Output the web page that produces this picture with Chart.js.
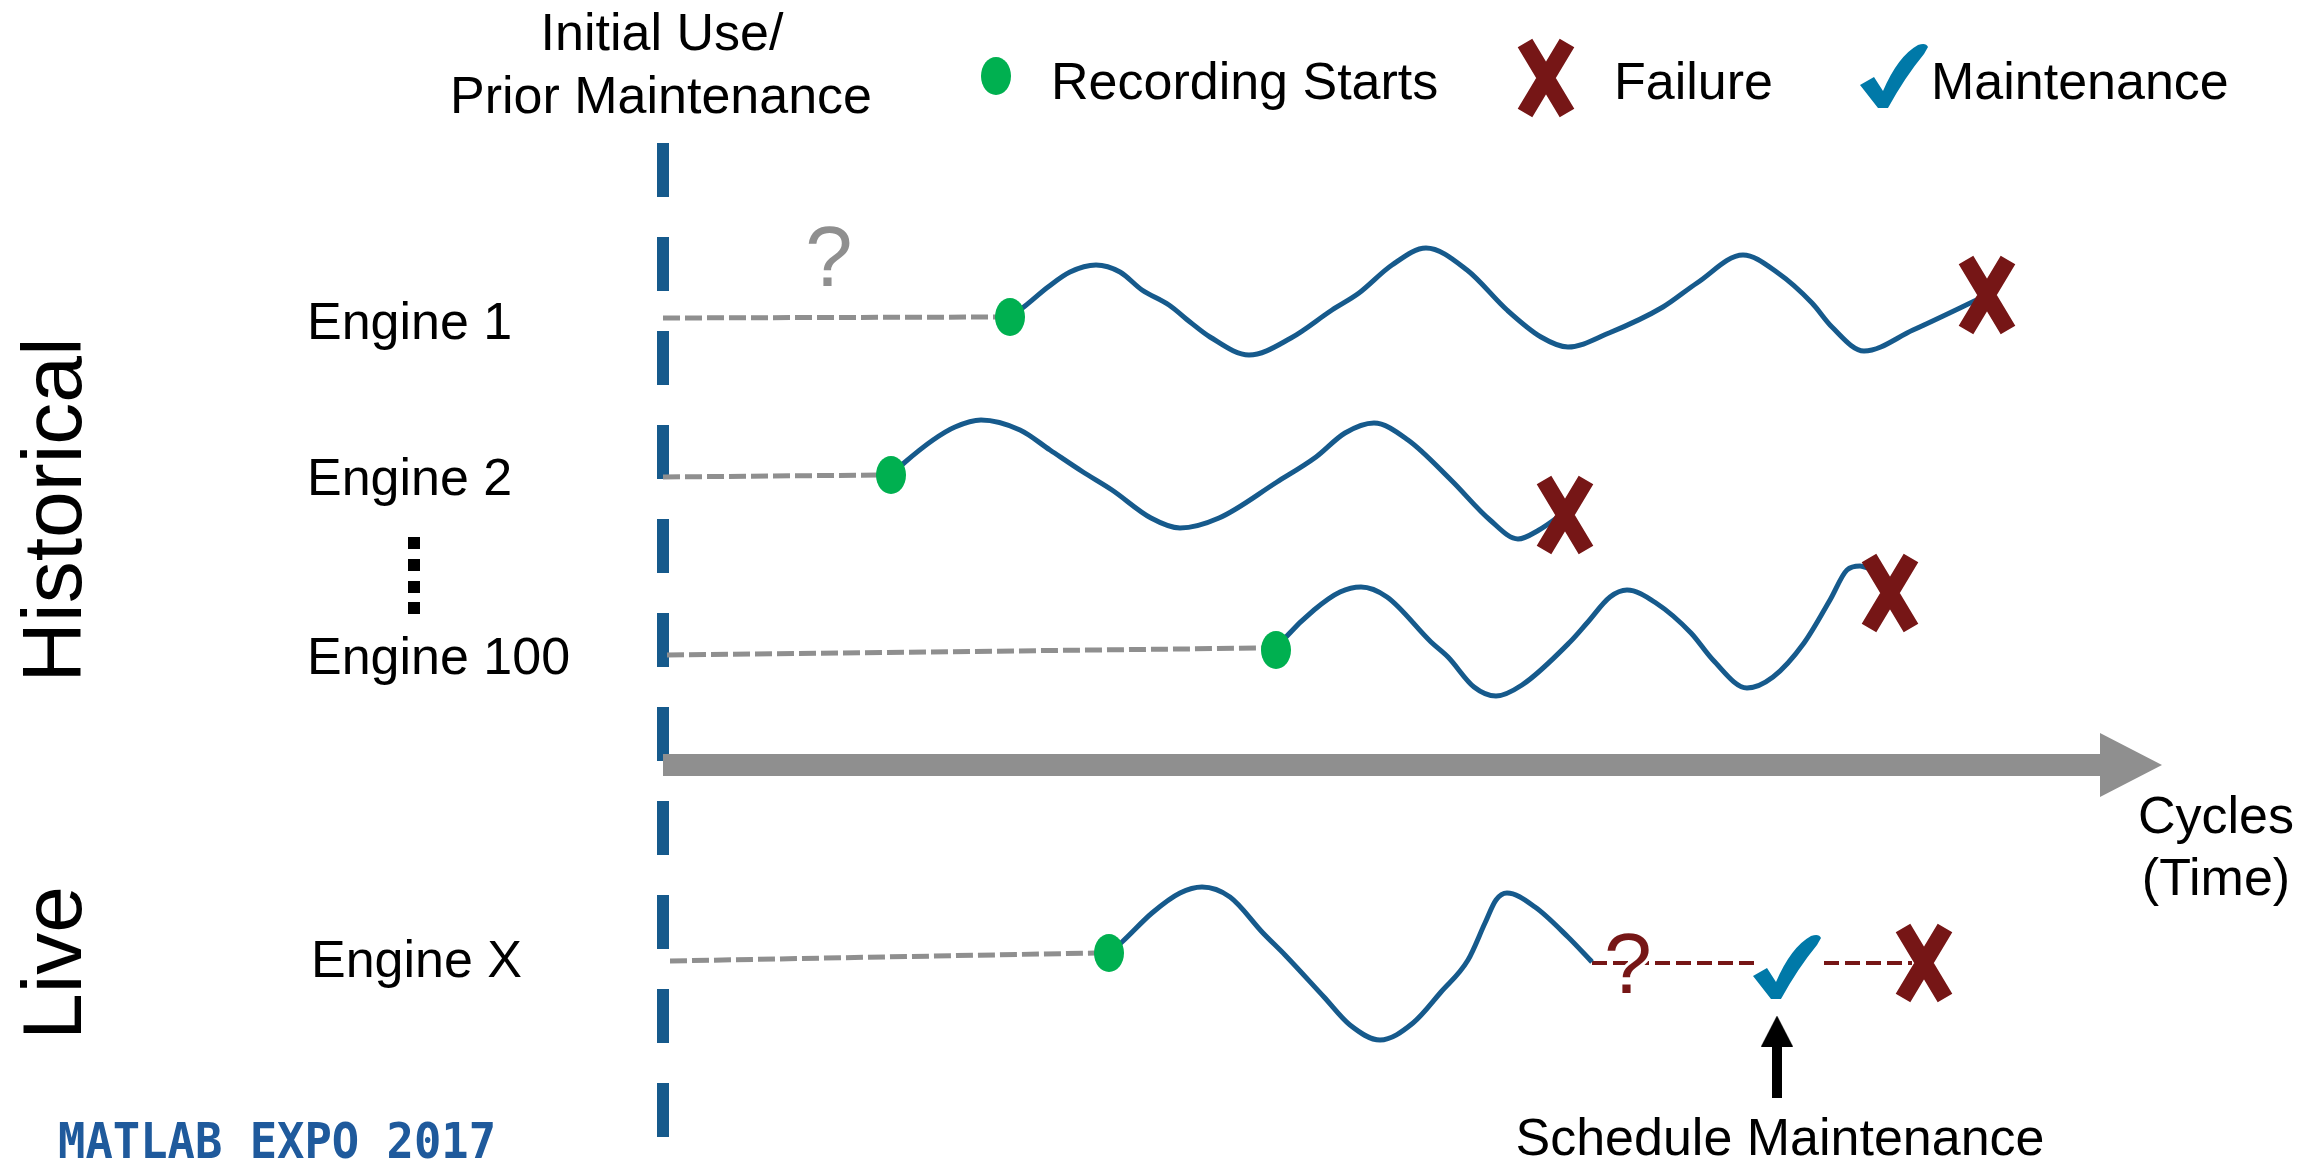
<!DOCTYPE html>
<html>
<head>
<meta charset="utf-8">
<script src="https://cdn.jsdelivr.net/npm/chart.js@4/dist/chart.umd.min.js"></script>
<style>
  html, body { margin: 0; padding: 0; background: #fff; }
  canvas { display: block; }
</style>
</head>
<body>
<canvas id="chart" width="2322" height="1165"></canvas>
<script>
// data (x = cycles, y = sensor reading, both in picture units)
const engine1Prior = [[663, 318], [1000, 317]];
const engine2Prior = [[663, 477], [880, 475]];
const engine100Prior = [[667, 655], [1265, 648]];
const engineXPrior = [[670, 961], [1095, 953]];

const engine1Curve = [[1010, 317], [1025, 306], [1048, 287], [1070, 272], [1096, 265], [1120, 272], [1142, 290], [1169, 305], [1190, 322], [1210, 337], [1249, 355], [1291, 338], [1332, 310], [1359, 293], [1392, 265], [1426, 248], [1467, 270], [1507, 310], [1541, 337], [1568, 347], [1609, 333], [1663, 307], [1697, 283], [1743, 255], [1778, 273], [1812, 303], [1832, 327], [1864, 351], [1913, 330], [1985, 296]];
const engine2Curve = [[891, 475], [904, 463], [933, 440], [955, 427], [981, 420], [1020, 430], [1050, 450], [1083, 472], [1112, 490], [1151, 518], [1180, 528], [1219, 518], [1277, 482], [1316, 457], [1345, 433], [1374, 423], [1408, 440], [1451, 480], [1490, 520], [1518, 539], [1539, 530], [1565, 512]];
const engine100Curve = [[1276, 650], [1286, 637], [1314, 610], [1340, 592], [1361, 587], [1387, 597], [1431, 642], [1448, 657], [1474, 687], [1496, 696], [1522, 685], [1570, 642], [1587, 623], [1610, 597], [1627, 590], [1656, 603], [1691, 633], [1713, 660], [1747, 688], [1773, 677], [1804, 643], [1830, 600], [1847, 570], [1860, 566], [1870, 569]];
const engineXCurve = [[1109, 953], [1122, 942], [1152, 913], [1180, 893], [1202, 887], [1230, 897], [1263, 933], [1285, 955], [1324, 997], [1350, 1025], [1380, 1040], [1413, 1023], [1441, 992], [1468, 960], [1485, 923], [1496, 900], [1507, 893], [1535, 907], [1568, 937], [1592, 962]];
const engineXForecast = [[1592, 963], [1754, 963], [1790, null], [1824, 963], [1912, 963]];

const recordingStarts = [[1010, 317], [891, 475], [1276, 650], [1109, 953]];
const failures = [[1987, 295], [1565, 515], [1890, 593], [1924, 963]];
const maintenance = [[1788, 967]];

const initialUse = [[663, 143], [663, 1140]];
const timeAxis = [[663, 765], [2102, 765]];
const timeAxisHead = [[2131, 765]];
const scheduleArrow = [[1777, 1098], [1777, 1044]];
const scheduleArrowHead = [[1777, 1031]];
const moreEngines = [[414, 543], [414, 565], [414, 587], [414, 608]];

const legendLabels = ['Recording Starts', 'Failure', 'Maintenance'];
const legendStart = [[996, 76]];
const legendFailure = [[1546, 78]];
const legendMaint = [[1895, 76]];

const engineLabels = ['Engine 1', 'Engine 2', 'Engine 100', 'Engine X'];
const groupLabels = ['Historical', 'Live'];

const BLUE = '#165a8c';
const GREEN = '#00b050';
const RED = '#761616';
const TEAL = '#0079a8';
const GRAY = '#8f8f8f';
const FONT = "'Liberation Sans', Arial, sans-serif";

function pts(arr) {
  return arr.map(p => ({ x: p[0], y: p[1] }));
}

// marker images
function ellipseImg() {
  const c = document.createElement('canvas');
  c.width = 32; c.height = 40;
  const g = c.getContext('2d');
  g.fillStyle = GREEN;
  g.beginPath();
  g.ellipse(16, 20, 15, 19, 0, 0, Math.PI * 2);
  g.fill();
  return c;
}
function crossImg() {
  const c = document.createElement('canvas');
  c.width = 60; c.height = 82;
  const g = c.getContext('2d');
  g.strokeStyle = RED;
  g.lineWidth = 17;
  g.lineCap = 'butt';
  g.beginPath();
  g.moveTo(30 - 21, 41 - 35); g.lineTo(30 + 21, 41 + 35);
  g.moveTo(30 + 21, 41 - 35); g.lineTo(30 - 21, 41 + 35);
  g.stroke();
  return c;
}
function checkImg() {
  const c = document.createElement('canvas');
  c.width = 70; c.height = 68;
  const g = c.getContext('2d');
  g.fillStyle = TEAL;
  g.beginPath();
  g.moveTo(0, 43);
  g.lineTo(14, 35);
  g.lineTo(23, 49);
  g.quadraticCurveTo(38, 14, 58, 3);
  g.quadraticCurveTo(66, 0, 68, 5);
  g.lineTo(64, 12);
  g.quadraticCurveTo(45, 35, 28, 66);
  g.lineTo(18, 66);
  g.closePath();
  g.fill();
  return c;
}
function triangleImg(w, h, color, dir) {
  const c = document.createElement('canvas');
  c.width = w; c.height = h;
  const g = c.getContext('2d');
  g.fillStyle = color;
  g.beginPath();
  if (dir === 'right') {
    g.moveTo(0, 0); g.lineTo(w, h / 2); g.lineTo(0, h);
  } else {
    g.moveTo(0, h); g.lineTo(w / 2, 0); g.lineTo(w, h);
  }
  g.closePath();
  g.fill();
  return c;
}

const dotImg = ellipseImg();
const xImg = crossImg();
const tickImg = checkImg();

function lineSet(arr, color, width, dash, extra) {
  return Object.assign({
    data: pts(arr),
    showLine: true,
    borderColor: color,
    borderWidth: width,
    borderDash: dash || [],
    pointRadius: 0,
    fill: false,
    spanGaps: false
  }, extra || {});
}
function markSet(arr, img, order) {
  return {
    data: pts(arr),
    showLine: false,
    pointStyle: img,
    pointRadius: 20,
    order: order
  };
}

const curveOpts = { cubicInterpolationMode: 'monotone', order: 5 };

const datasets = [
  lineSet(initialUse, BLUE, 12, [54, 40], { order: 9 }),
  lineSet(timeAxis, GRAY, 22, [], { order: 8 }),
  markSet(timeAxisHead, triangleImg(62, 64, GRAY, 'right'), 8),
  lineSet(scheduleArrow, '#000', 10, [], { order: 8 }),
  markSet(scheduleArrowHead, triangleImg(32, 31, '#000', 'up'), 8),
  lineSet(engine1Prior, GRAY, 5, [17, 5], { order: 7 }),
  lineSet(engine2Prior, GRAY, 5, [17, 5], { order: 7 }),
  lineSet(engine100Prior, GRAY, 5, [17, 5], { order: 7 }),
  lineSet(engineXPrior, GRAY, 5, [17, 5], { order: 7 }),
  lineSet(engine1Curve, BLUE, 5, [], curveOpts),
  lineSet(engine2Curve, BLUE, 5, [], curveOpts),
  lineSet(engine100Curve, BLUE, 5, [], curveOpts),
  lineSet(engineXCurve, BLUE, 5, [], curveOpts),
  lineSet(engineXForecast, RED, 4, [15, 6], { order: 6 }),
  markSet(recordingStarts, dotImg, 2),
  markSet(failures, xImg, 1),
  markSet(maintenance, tickImg, 1),
  markSet(legendStart, dotImg, 1),
  markSet(legendFailure, xImg, 1),
  markSet(legendMaint, tickImg, 1),
  { data: pts(moreEngines), showLine: false, pointStyle: 'rect', pointRadius: 8.5,
    backgroundColor: '#000', borderWidth: 0, order: 1 }
];

const texts = [
  { text: 'Initial Use/', x: 662, y: 50, size: 52, align: 'center' },
  { text: 'Prior Maintenance', x: 661, y: 113, size: 52, align: 'center' },
  { text: legendLabels[0], x: 1051, y: 99, size: 52 },
  { text: legendLabels[1], x: 1614, y: 99, size: 52 },
  { text: legendLabels[2], x: 1931, y: 99, size: 52 },
  { text: engineLabels[0], x: 307, y: 339, size: 52 },
  { text: engineLabels[1], x: 307, y: 495, size: 52 },
  { text: engineLabels[2], x: 307, y: 674, size: 52 },
  { text: engineLabels[3], x: 311, y: 977, size: 52 },
  { text: groupLabels[0], x: 81, y: 510, size: 84, align: 'center', rot: -Math.PI / 2 },
  { text: groupLabels[1], x: 81, y: 963, size: 84, align: 'center', rot: -Math.PI / 2 },
  { text: 'Cycles', x: 2216, y: 833, size: 52, align: 'center' },
  { text: '(Time)', x: 2216, y: 895, size: 52, align: 'center' },
  { text: 'Schedule Maintenance', x: 1780, y: 1155, size: 52, align: 'center' },
  { text: '?', x: 829, y: 286, size: 85, align: 'center', color: GRAY },
  { text: '?', x: 1628, y: 993, size: 86, align: 'center', color: RED, halo: 6 },
  { text: 'MATLAB EXPO 2017', x: 58, y: 1158, size: 50, bold: true, mono: true, color: '#1f5a9c', fitWidth: 438 }
];

const textPlugin = {
  id: 'diagramText',
  afterDatasetsDraw(chart) {
    const ctx = chart.ctx;
    const sx = chart.scales.x, sy = chart.scales.y;
    texts.forEach(t => {
      ctx.save();
      ctx.translate(sx.getPixelForValue(t.x), sy.getPixelForValue(t.y));
      if (t.rot) ctx.rotate(t.rot);
      const fam = t.mono ? "'DejaVu Sans Mono', monospace" : FONT;
      ctx.font = (t.bold ? 'bold ' : '') + t.size + 'px ' + fam;
      ctx.textAlign = t.align || 'left';
      ctx.textBaseline = 'alphabetic';
      if (t.fitWidth) {
        const w = ctx.measureText(t.text).width;
        ctx.scale(t.fitWidth / w, 1);
      }
      if (t.halo) {
        ctx.strokeStyle = '#fff';
        ctx.lineWidth = t.halo;
        ctx.lineJoin = 'round';
        ctx.strokeText(t.text, 0, 0);
      }
      ctx.fillStyle = t.color || '#000';
      ctx.fillText(t.text, 0, 0);
      ctx.restore();
    });
  }
};

new Chart(document.getElementById('chart'), {
  type: 'scatter',
  data: { datasets: datasets },
  options: {
    responsive: false,
    animation: false,
    devicePixelRatio: 1,
    layout: { padding: 0, autoPadding: false },
    scales: {
      x: { type: 'linear', min: 0, max: 2322, display: false },
      y: { type: 'linear', min: 0, max: 1165, reverse: true, display: false }
    },
    plugins: {
      legend: { display: false },
      tooltip: { enabled: false }
    },
    elements: { line: { borderCapStyle: 'butt' } }
  },
  plugins: [textPlugin]
});
</script>
</body>
</html>
